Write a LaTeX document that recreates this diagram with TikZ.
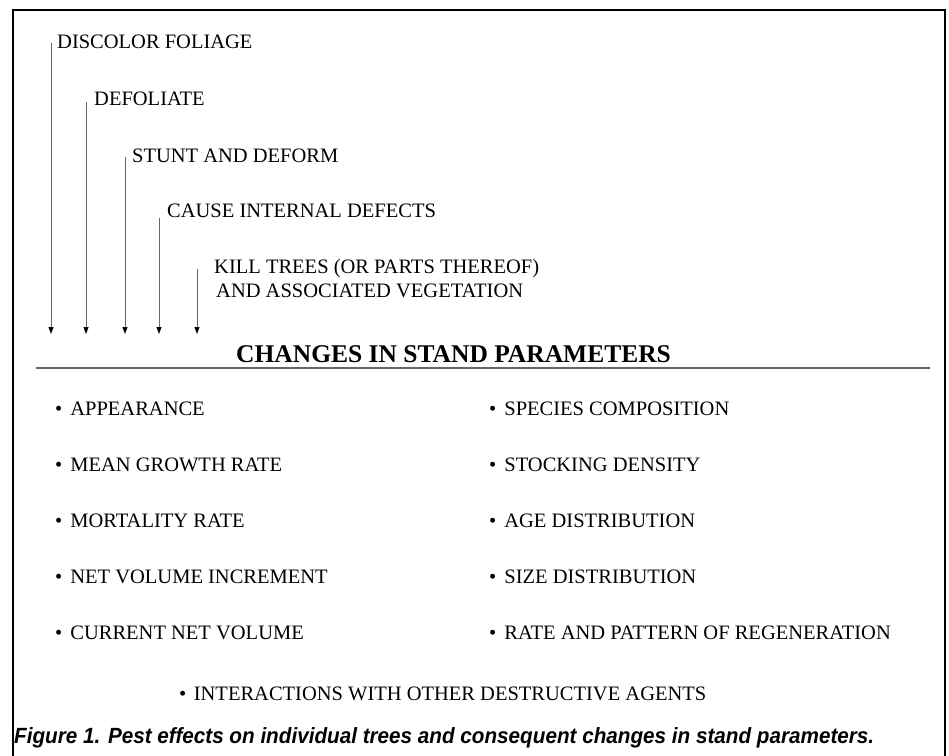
\documentclass[tikz,border=0pt]{standalone}
\usepackage{fontspec}
\setmainfont{Liberation Serif}
\newfontfamily\capfont[FakeStretch=0.94]{Liberation Sans}
\usetikzlibrary{arrows.meta}
\begin{document}
\begin{tikzpicture}[x=1pt,y=-1pt,
  lbl/.style={anchor=base west,inner sep=0pt,font=\fontsize{20.5}{26}\selectfont},
  item/.style={anchor=base west,inner sep=0pt,font=\fontsize{20.5}{26}\selectfont},
  head/.style={anchor=base west,inner sep=0pt,font=\fontsize{25.5}{30}\selectfont\bfseries},
  captext/.style={anchor=base west,inner sep=0pt,font=\fontsize{22}{26}\selectfont\capfont\bfseries\itshape},
  arr/.style={draw=black!60,line width=0.9pt,-{Triangle[length=7pt,width=5pt,fill=black,color=black]}},
  frame/.style={draw=black,line width=2.5pt},
  rule/.style={draw=black!60,line width=1.4pt}]
\useasboundingbox (0,0) rectangle (949,755);
% frame (open at the bottom)
\draw[frame] (13,760) -- (13,10) -- (945,10) -- (945,760);
% effect labels
\node[lbl] (d1) at (57,48) {DISCOLOR FOLIAGE};
\node[lbl] (d2) at (94,105) {DEFOLIATE};
\node[lbl] (d3) at (132,162) {STUNT AND DEFORM};
\node[lbl] (d4) at (167,217) {CAUSE INTERNAL DEFECTS};
\node[lbl] (d5) at (214,273) {KILL TREES (OR PARTS THEREOF)};
\node[lbl] (d6) at (216,297) {AND ASSOCIATED VEGETATION};
% arrow starts and tips
\coordinate (s1) at (51,43);  \coordinate (t1) at (51,334);
\coordinate (s2) at (86,102); \coordinate (t2) at (86,334);
\coordinate (s3) at (125,157); \coordinate (t3) at (125,334);
\coordinate (s4) at (159,218); \coordinate (t4) at (159,334);
\coordinate (s5) at (197,269); \coordinate (t5) at (197,334);
\draw[arr] (s1) -- (t1);
\draw[arr] (s2) -- (t2);
\draw[arr] (s3) -- (t3);
\draw[arr] (s4) -- (t4);
\draw[arr] (s5) -- (t5);
% heading and rule
\node[head] (h) at (236,362) {CHANGES IN STAND PARAMETERS};
\coordinate (r1) at (36,368); \coordinate (r2) at (930,368);
\draw[rule] (r1) -- (r2);
% left column
\node[item] (a1) at (55,415) {\textbullet\hspace{8pt}APPEARANCE};
\node[item] (a2) at (55,471) {\textbullet\hspace{8pt}MEAN GROWTH RATE};
\node[item] (a3) at (55,527) {\textbullet\hspace{8pt}MORTALITY RATE};
\node[item] (a4) at (55,583) {\textbullet\hspace{8pt}NET VOLUME INCREMENT};
\node[item] (a5) at (55,639) {\textbullet\hspace{8pt}CURRENT NET VOLUME};
% right column
\node[item] (b1) at (489,415) {\textbullet\hspace{8pt}SPECIES COMPOSITION};
\node[item] (b2) at (489,471) {\textbullet\hspace{8pt}STOCKING DENSITY};
\node[item] (b3) at (489,527) {\textbullet\hspace{8pt}AGE DISTRIBUTION};
\node[item] (b4) at (489,583) {\textbullet\hspace{8pt}SIZE DISTRIBUTION};
\node[item] (b5) at (489,639) {\textbullet\hspace{8pt}RATE AND PATTERN OF REGENERATION};
% bottom item
\node[item] (c1) at (179,700) {\textbullet\hspace{7.5pt}INTERACTIONS WITH OTHER DESTRUCTIVE AGENTS};
% caption
\node[captext] (fig) at (14,743) {Figure 1. Pest effects on individual trees and consequent changes in stand parameters.};
\end{tikzpicture}
\end{document}
